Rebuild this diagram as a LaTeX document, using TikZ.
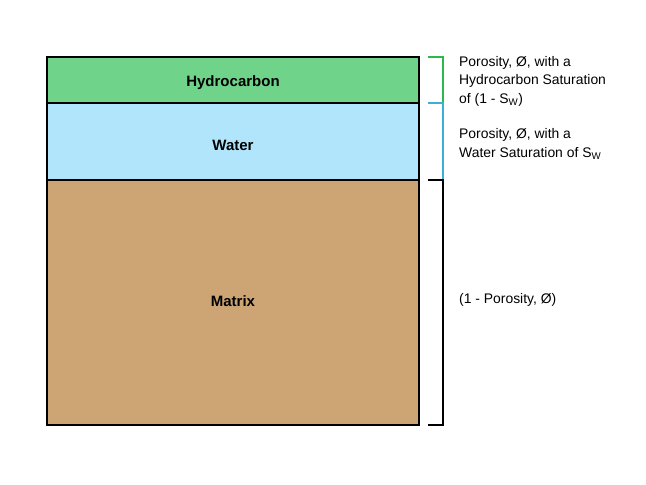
\documentclass[tikz,border=0pt]{standalone}
\usepackage{fontspec}
\setmainfont{Liberation Sans}
\definecolor{hc}{HTML}{6FD38A}
\definecolor{wat}{HTML}{B0E5FB}
\definecolor{mat}{HTML}{CDA473}
\definecolor{gbr}{HTML}{2DB84B}
\definecolor{bbr}{HTML}{3BAEDA}
\begin{document}
\begin{tikzpicture}[x=1pt,y=-1pt,
  layer/.style={draw=black,line width=2.8pt},
  lbl/.style={font=\fontsize{15}{17}\selectfont\bfseries},
  side/.style={font=\fontsize{13.9}{18.5}\selectfont,align=left,anchor=west,inner sep=0pt},
  brk/.style={line width=2pt}]
\useasboundingbox (0,0) rectangle (646,485);
\fill[hc] (47,57) rectangle (419,103);
\fill[wat] (47,103) rectangle (419,180);
\fill[mat] (47,180) rectangle (419,425);
\draw[line width=2.8pt] (47,103) -- (419,103) (47,180) -- (419,180);
\draw[layer] (47,57) rectangle (419,425);
\node[lbl] (h) at (233,83) {Hydrocarbon};
\node[lbl] (w) at (233,145) {Water};
\node[lbl] (m) at (233,301) {Matrix};
\draw[brk,gbr] (428,57) -- (443,57) -- (443,103);
\draw[brk,bbr] (428,103) -- (443,103) -- (443,180);
\draw[brk,black] (428,180) -- (443,180) -- (443,425) -- (428,425);
\node[side] (t1) at (459,81) {Porosity, Ø, with a\\Hydrocarbon Saturation\\of (1 - S\textsubscript{W})};
\node[side] (t2) at (459,144) {Porosity, Ø, with a\\Water Saturation of S\textsubscript{W}};
\node[side] (t3) at (459,300) {(1 - Porosity, Ø)};
\end{tikzpicture}
\end{document}
